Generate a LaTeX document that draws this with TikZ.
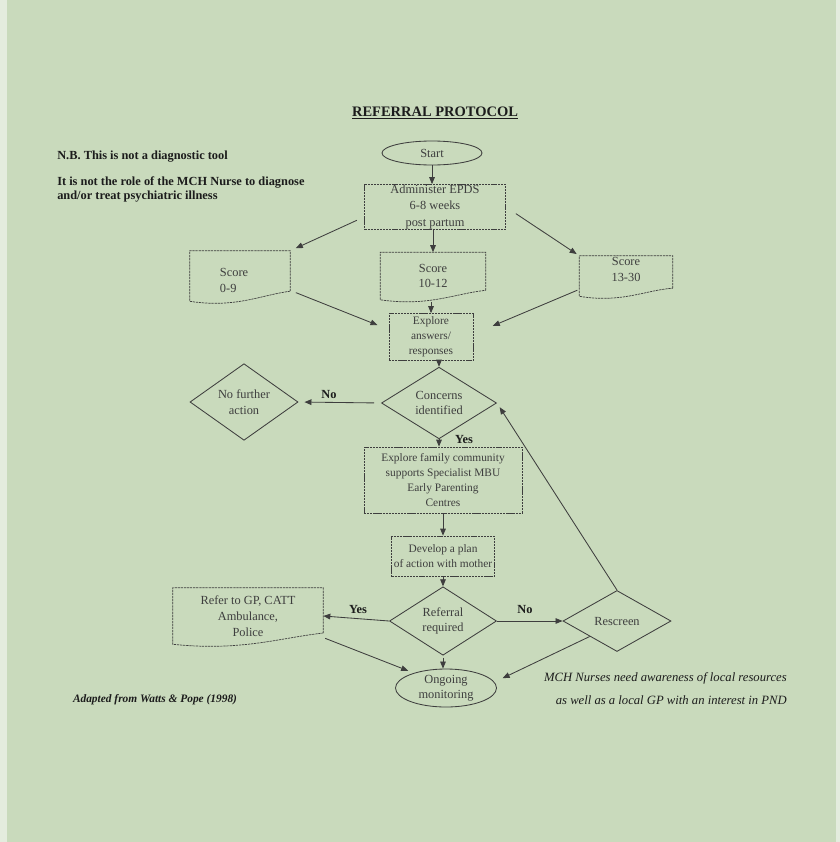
\documentclass[tikz,border=0pt]{standalone}
\usepackage{fontspec}
\setmainfont{Liberation Serif}
\usepackage{tikz}
\usetikzlibrary{arrows.meta,shapes.geometric,calc}
\usepackage{xcolor}
\definecolor{paper}{RGB}{201,218,188}
\definecolor{paperedge}{RGB}{228,236,222}
\definecolor{ink}{RGB}{62,62,62}
\definecolor{inkdark}{RGB}{28,28,28}

% frame with a wavy bottom (flowchart document)
\newcommand{\wavyframe}[1]{%
  \draw[boxline] ($(#1.north east)!0.8!(#1.south east)$) -- (#1.north east) -- (#1.north west) -- (#1.south west)
    .. controls ($(#1.south west)!0.45!(#1.south east)+(0,7)$) and ($(#1.south west)!0.7!(#1.south east)+(0,-6)$)
    .. ($(#1.north east)!0.8!(#1.south east)$);}

\begin{document}
\begin{tikzpicture}[x=0.025cm, y=-0.025cm,
    boxline/.style={draw=ink, line width=0.5pt, dash pattern=on 1.6pt off 0.6pt},
    procbox/.style={rectangle, boxline, inner sep=0pt, align=center, text=ink,
      font=\fontsize{8.8}{11.2}\selectfont},
    docbox/.style={rectangle, inner sep=0pt, align=center, text=ink,
      font=\fontsize{8.8}{11.2}\selectfont},
    decision/.style={diamond, draw=ink, line width=0.6pt, inner sep=0pt, align=center, text=ink,
      font=\fontsize{8.8}{11.3}\selectfont},
    terminal/.style={ellipse, draw=ink, line width=0.6pt, inner sep=0pt, align=center, text=ink,
      font=\fontsize{8.8}{11}\selectfont},
    smalltext/.style={font=\fontsize{8.1}{10.5}\selectfont},
    flow/.style={-{Triangle[length=5pt,width=4pt]}, draw=ink, line width=0.6pt},
    answer/.style={text=inkdark, font=\bfseries\fontsize{8.8}{10}\selectfont}]

    % paper
    \fill[paper] (0,0) rectangle (840,842);
    \fill[paperedge] (0,0) rectangle (7,842);
    \fill[paperedge] (836,0) rectangle (840,842);

    % Heading and notes
    \node[text=inkdark, font=\bfseries\fontsize{10.3}{12}\selectfont] (title) at (435,113) {\underline{REFERRAL PROTOCOL}};
    \node[anchor=west, inner sep=0pt, text=inkdark, font=\bfseries\fontsize{8.8}{10.6}\selectfont] (nb) at (57,157) {N.B. This is not a diagnostic tool};
    \node[anchor=west, inner sep=0pt, align=left, text=inkdark, font=\bfseries\fontsize{8.8}{10.6}\selectfont] (role) at (57,189.5)
      {It is not the role of the MCH Nurse to diagnose\\and/or treat psychiatric illness};

    % Screening
    \node[terminal, minimum width=2.5cm, minimum height=0.6cm] (start) at (432,153) {Start};
    \node[procbox, minimum width=3.525cm, minimum height=1.125cm, font=\fontsize{8.8}{12}\selectfont] (adm) at (435,207)
      {Administer EPDS\\6-8 weeks\\post partum};

    % Scores
    \node[docbox, minimum width=2.5cm, minimum height=1.25cm, text width=1cm, align=left, text height=12pt] (s09) at (240,276) {Score\\0-9};
    \node[docbox, minimum width=2.625cm, minimum height=1.175cm] (s1012) at (433,276) {Score\\10-12};
    \node[docbox, minimum width=2.325cm, minimum height=1.0cm, text depth=9pt] (s1330) at (626,276) {Score\\13-30};
    \wavyframe{s09}
    \wavyframe{s1012}
    \wavyframe{s1330}

    % Explore and decide
    \node[procbox, smalltext, minimum width=2.1cm, minimum height=1.175cm] (expl) at (431,337)
      {Explore\\answers/\\responses};
    \node[decision, minimum width=2.875cm, minimum height=1.375cm] (conc) at (439,403) {Concerns\\identified};
    \node[decision, minimum width=2.7cm, minimum height=1.65cm] (nfa) at (244,402) {No further\\action};
    \node[procbox, smalltext, minimum width=3.95cm, minimum height=1.65cm] (fam) at (443,480)
      {Explore family community\\supports Specialist MBU\\Early Parenting\\Centres};
    \node[procbox, smalltext, minimum width=2.575cm, minimum height=1.0cm] (dev) at (443,556)
      {Develop a plan\\of action with mother};
    \node[decision, minimum width=2.675cm, minimum height=1.5cm] (refq) at (443,621) {Referral\\required};
    \node[docbox, minimum width=3.75cm, minimum height=1.4cm, font=\fontsize{8.8}{11.4}\selectfont] (refer) at (248,616)
      {Refer to GP, CATT\\Ambulance,\\Police};
    \wavyframe{refer}
    \node[decision, minimum width=2.7cm, minimum height=1.525cm] (resc) at (617,621) {Rescreen};
    \node[terminal, minimum width=2.525cm, minimum height=0.95cm] (ongo) at (446,688) {Ongoing\\monitoring};

    % Connectors
    \draw[flow] (start.south) -- (start.south |- adm.north);
    \draw[flow, shorten <=0.2cm, shorten >=0.15cm] (adm.188) -- (s09.north east);
    \draw[flow, shorten <=0.3cm, shorten >=0.075cm] (adm.east) -- (s1330.north west);
    \draw[flow] (s1012.north |- adm.south) -- (s1012.north);
    \draw[flow, shorten <=0.15cm, shorten >=0.3cm] (s09.-16) -- (expl.170);
    \draw[flow, shorten <=0.05cm] (expl.north |- s1012.south) -- (expl.north);
    \draw[flow, shorten <=0.05cm, shorten >=0.525cm] (s1330.196) -- (expl.4);
    \draw[flow] (conc.north |- expl.south) -- (conc.north);
    \draw[flow, shorten <=0.175cm, shorten >=0.15cm] (conc.west) -- (nfa.east);
    \draw[flow] (conc.south) -- (conc.south |- fam.north);
    \draw[flow] (dev.north |- fam.south) -- (dev.north);
    \draw[flow] (dev.south) -- (refq.north);
    \draw[flow] (refq.west) -- (refer.east);
    \draw[flow] (refq.east) -- (resc.west);
    \draw[flow, shorten >=0.125cm] (resc.north) -- (conc.east);
    \draw[flow, shorten <=0.05cm] (refq.south) -- (refq.south |- ongo.north);
    \draw[flow, shorten <=0.05cm, shorten >=0.15cm] (refer.-16) -- (ongo.155);
    \draw[flow, shorten >=0.225cm] (resc.south west) -- (ongo.7);

    % Labels
    \node[answer] (noA) at (329,395) {No};
    \node[answer] (yesA) at (464,440) {Yes};
    \node[answer] (yesB) at (358,610) {Yes};
    \node[answer] (noB) at (525,610) {No};

    % Footnotes
    \node[text=inkdark, font=\bfseries\itshape\fontsize{8.1}{10}\selectfont] (src) at (155,700) {Adapted from Watts \& Pope (1998)};
    \node[anchor=east, inner sep=0pt, align=right, text=inkdark, font=\itshape\fontsize{9}{16.3}\selectfont] (mch) at (787,688.5)
      {MCH Nurses need awareness of local resources\\as well as a local GP with an interest in PND};
\end{tikzpicture}
\end{document}
